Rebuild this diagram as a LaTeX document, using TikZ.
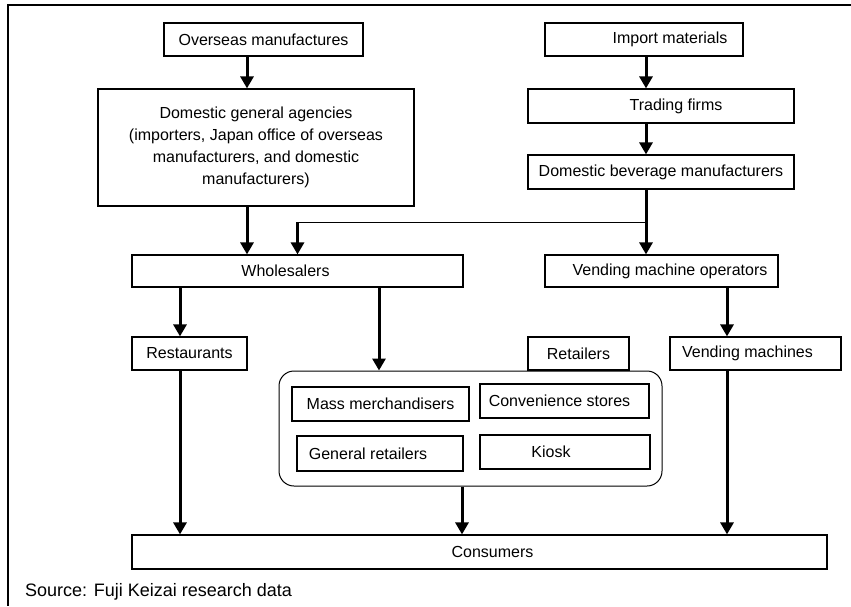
\documentclass[tikz,border=0pt]{standalone}
\usepackage{fontspec}
\setmainfont{Liberation Sans}
\usetikzlibrary{arrows.meta}

\begin{document}
\begin{tikzpicture}[x=1pt, y=-1pt,
    box/.style={draw, line width=1.2pt, inner sep=0pt, align=center,
      font=\fontsize{16}{22}\selectfont},
    group/.style={draw, line width=1pt, rounded corners=15pt},
    flow/.style={line width=3pt, -{Triangle[length=12pt,width=13pt]}},
    feed/.style={line width=1pt}]

      \useasboundingbox (0,0) rectangle (851,606);
      \draw[line width=2pt] (7,5) -- (851,5);
      \draw[line width=2pt] (8,5) -- (8,606);

      \node[box, minimum width=199, minimum height=33] (overseas) at (263.5,39.5) {Overseas manufactures};
      \node[box, minimum width=316, minimum height=117] (agencies) at (256,147.5)
        {Domestic general agencies\\(importers, Japan office of overseas\\manufacturers, and domestic\\manufacturers)};

      \node[box, minimum width=198, minimum height=33] (imports) at (644,39.5) {\hspace*{52pt}Import materials};
      \node[box, minimum width=266, minimum height=34] (trading) at (661,106) {\hspace*{30pt}Trading firms};
      \node[box, minimum width=266, minimum height=34] (beverage) at (661,172) {Domestic beverage manufacturers};

      \node[box, minimum width=331, minimum height=32] (wholesale) at (297.5,271) {Wholesalers\hspace*{24pt}};
      \node[box, minimum width=233, minimum height=32] (operators) at (661.5,271) {\hspace*{17pt}Vending machine operators};

      \node[box, minimum width=115, minimum height=33] (restaurants) at (189.5,353.5) {Restaurants};
      \node[box, minimum width=101, minimum height=33] (retailers) at (578.5,353.5) {Retailers};
      \node[box, minimum width=171, minimum height=33] (machines) at (755.5,353.5) {Vending machines\hspace*{16pt}};

      \node[group, minimum width=383, minimum height=115] (shops) at (470.5,428.5) {};
      \node[box, minimum width=177, minimum height=34] (mass) at (380.5,404) {Mass merchandisers};
      \node[box, minimum width=169, minimum height=34] (convenience) at (564.5,401) {Convenience stores\hspace*{10pt}};
      \node[box, minimum width=166, minimum height=35] (general) at (380,453.5) {General retailers\hspace*{24pt}};
      \node[box, minimum width=170, minimum height=34] (kiosk) at (565,452) {Kiosk\hspace*{28pt}};

      \node[box, minimum width=695, minimum height=34] (consumers) at (479.5,552) {\hspace*{26pt}Consumers};

      \node[anchor=west, inner sep=0pt, font=\fontsize{18}{22}\selectfont] (source) at (25,592) {Source: Fuji Keizai research data};


      \draw[flow] (overseas.south -| 247,0) -- (agencies.north -| 247,0);
      \draw[flow] (agencies.south -| 247,0) -- (wholesale.north -| 247,0);

      \draw[flow] (imports.south -| 646,0) -- (trading.north -| 646,0);
      \draw[flow] (trading.south -| 646,0) -- (beverage.north -| 646,0);
      \draw[flow] (beverage.south -| 646,0) -- (operators.north -| 646,0);

      \coordinate (split) at (646,222);
      \coordinate (turn) at (wholesale.north |- split);
      \draw[feed] (split) -- (turn);
      \draw[flow] (turn) -- (wholesale.north);

      \draw[flow] (wholesale.south -| 180,0) -- (restaurants.north -| 180,0);
      \draw[flow] (wholesale.south -| 379,0) -- (shops.north -| 379,0);
      \draw[flow] (operators.south -| 727,0) -- (machines.north -| 727,0);

      \draw[flow] (restaurants.south -| 180,0) -- (consumers.north -| 180,0);
      \draw[flow] (shops.south -| 462,0) -- (consumers.north -| 462,0);
      \draw[flow] (machines.south -| 727,0) -- (consumers.north -| 727,0);

\end{tikzpicture}
\end{document}
